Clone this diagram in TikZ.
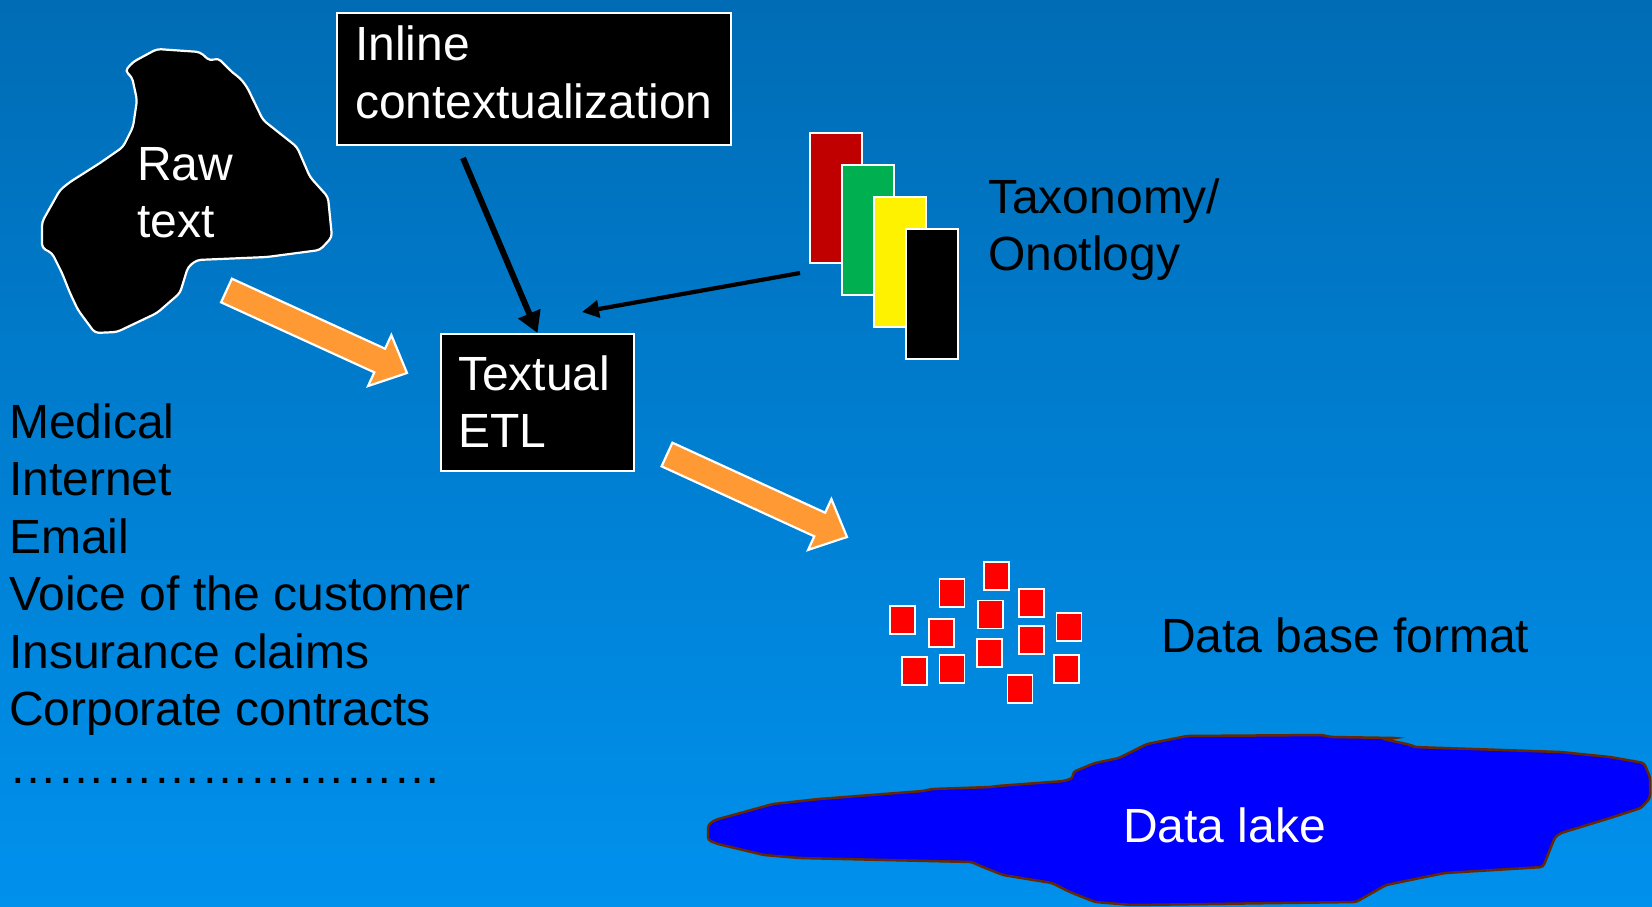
\documentclass[tikz,border=0pt]{standalone}
\usepackage{fontspec}
\setmainfont{Liberation Sans}
\usetikzlibrary{calc,arrows.meta}
\definecolor{bgtop}{RGB}{0,108,181}
\definecolor{bgbot}{RGB}{0,145,237}
\definecolor{orangearr}{RGB}{255,153,51}
\definecolor{taxred}{RGB}{192,0,0}
\definecolor{taxgreen}{RGB}{0,176,80}
\definecolor{lakeblue}{RGB}{0,0,255}
\definecolor{lakeedge}{RGB}{102,40,0}
\newcommand\bigfont{\fontsize{48}{57.5}\selectfont}
\newcommand\tstrut[1]{\rule{0pt}{#1}}
\newcommand\bstrut[1]{\rule[-#1]{0pt}{#1}}
\newcommand\fatarrow[2]{%
  \coordinate (hb) at ($(#2)!30pt!(#1)$);
  \draw[fatarrowstyle] ($(#1)!13pt!90:(#2)$) -- ($(hb)!13pt!90:(#2)$) -- ($(hb)!28pt!90:(#2)$) -- (#2)
    -- ($(hb)!28pt!-90:(#2)$) -- ($(hb)!13pt!-90:(#2)$) -- ($(#1)!13pt!-90:(#2)$) -- cycle;}
\tikzset{
  txt/.style={font=\bigfont, inner sep=0pt, text=black},
  blackbox/.style={fill=black, draw=white, line width=2pt, inner ysep=0pt, text=white, font=\bigfont, align=left, anchor=north west},
  taxrect/.style={draw=white, line width=2pt, minimum width=52pt, minimum height=130pt, inner sep=0pt},
  dbsq/.style={fill=red, draw=white, line width=1.6pt, minimum width=25pt, minimum height=28pt, inner sep=0pt},
  fatarrowstyle/.style={fill=orangearr, draw=white, line width=2.2pt, line join=miter},
  thickarr/.style={draw=black, line width=6pt, -{Triangle[length=21pt,width=23pt]}},
  thinarr/.style={draw=black, line width=4.2pt, -{Triangle[length=17pt,width=17pt]}},
  blob/.style={fill=black, draw=white, line width=2.2pt, rounded corners=4pt},
  lake/.style={fill=lakeblue, draw=lakeedge, line width=2.5pt, rounded corners=3pt}
}
\begin{document}
\begin{tikzpicture}[x=1pt,y=-1pt]
\useasboundingbox (0,0) rectangle (1652,907);
\shade[top color=bgtop, bottom color=bgbot] (0,0) rectangle (1652,907);

% raw text blob
\draw[blob] (125,71) -- (133,62) -- (157,49) -- (200,52) -- (210,61) -- (218,58) -- (233,73) -- (240,78)
  -- (247,87) -- (263,120) -- (297,147) -- (310,177) -- (328,197) -- (332,237) -- (320,250) -- (267,257)
  -- (197,260) -- (188,267) -- (180,293) -- (157,313) -- (117,332) -- (95,333) -- (78,310) -- (70,293)
  -- (62,273) -- (52,253) -- (42,248) -- (42,222) -- (60,190) -- (70,182) -- (100,163) -- (123,147)
  -- (133,127) -- (137,100) -- (132,77) -- cycle;
\node[txt, text=white, anchor=north west, align=left] (rawlbl) at (137,140) {\tstrut{40pt}Raw\\text};

% boxes
\node[blackbox, text width=358pt, inner xsep=18pt, minimum width=394pt] (inl) at (336,12)
  {\tstrut{48pt}Inline\\contextualization\bstrut{26.5pt}};
\node[blackbox, text width=159pt, inner xsep=17pt, minimum width=193pt] (etl) at (440,333)
  {\tstrut{56pt}Textual\\ETL\bstrut{23.5pt}};

% taxonomy stack
\node[taxrect, fill=taxred] (tx1) at (836,198) {};
\node[taxrect, fill=taxgreen] (tx2) at (868,230) {};
\node[taxrect, fill=yellow] (tx3) at (900,261.5) {};
\node[taxrect, fill=black] (tx4) at (932,293.5) {};
\node[txt, anchor=north west, align=left] (taxlbl) at (988,173) {\tstrut{40pt}Taxonomy/\\Onotlogy};

% source list
\node[txt, anchor=north west, align=left] (sources) at (9,398)
  {\tstrut{40pt}Medical\\Internet\\Email\\Voice of the customer\\Insurance claims\\Corporate contracts\\………………………};

% database squares
\foreach \x/\y [count=\i] in {902.5/620, 952/593, 996.5/576, 1031.5/603, 990.5/614.5, 941.5/633, 1069/627,
  1031.5/640, 989.5/653, 914.5/671, 952/669, 1066.5/669, 1020/689}
  \node[dbsq] (sq\i) at (\x,\y) {};
\node[txt, anchor=base west] (dblbl) at (1161,652) {Data base format};

% data lake
\draw[lake] (708,825) -- (715,820) -- (773,804) -- (819,799) -- (923,791) -- (932,789) -- (991,787)
  -- (997,786) -- (1064,781) -- (1073,778) -- (1073,772) -- (1095,763) -- (1119,758) -- (1147,744)
  -- (1187,736) -- (1322,735) -- (1331,737) -- (1396,738) -- (1383,739) -- (1411,745) -- (1414,747)
  -- (1561,752) -- (1580,754) -- (1610,757) -- (1644,763) -- (1650,777) -- (1650,798) -- (1641,808)
  -- (1610,818) -- (1561,833) -- (1555,837) -- (1543,867) -- (1445,873) -- (1420,878) -- (1386,885)
  -- (1356,902) -- (1132,905) -- (1095,902) -- (1070,892) -- (1052,883) -- (1003,875) -- (978,865)
  -- (972,862) -- (800,858) -- (764,855) -- (718,844) -- (708,840) -- cycle;
\node[txt, text=white, anchor=base west] (lakelbl) at (1123,842) {Data lake};

% orange flow arrows
\coordinate (a1t) at (226.5,290.5);
\coordinate (a1p) at (407,373);
\fatarrow{a1t}{a1p}
\coordinate (a2t) at (667,454.5);
\coordinate (a2p) at (847,537);
\fatarrow{a2t}{a2p}

% black arrows
\coordinate (inlout) at (463,158);
\draw[thickarr] (inlout) -- (etl.north);
\coordinate (taxout) at (800,273);
\coordinate (etlin) at (582,312);
\draw[thinarr] (taxout) -- (etlin);
\end{tikzpicture}
\end{document}
